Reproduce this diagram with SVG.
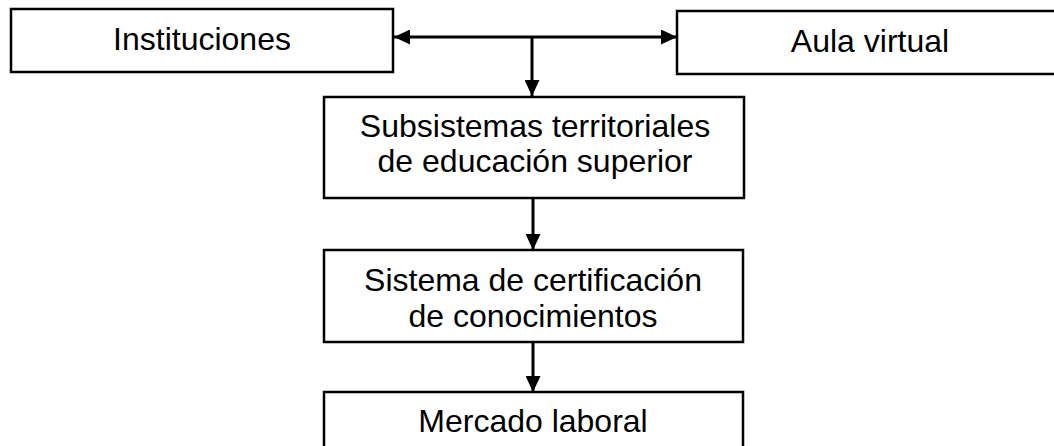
<svg xmlns="http://www.w3.org/2000/svg" width="1054" height="446" viewBox="0 0 1054 446">
<style>
.box{fill:#fff;stroke:#000;stroke-width:2.5}
.t{font-family:"Liberation Sans",Arial,sans-serif;font-size:32px;fill:#000;text-anchor:middle}
.c{stroke:#000;stroke-width:3;fill:none}
</style>
<defs>
<marker id="ah" viewBox="0 0 16 15" refX="16" refY="7.5" markerWidth="16" markerHeight="15" markerUnits="userSpaceOnUse" orient="auto-start-reverse">
<path d="M0,0 L16,7.5 L0,15 Z" fill="#000"/>
</marker>
</defs>
<rect width="1054" height="446" fill="#fff"/>
<g id="instituciones"><rect class="box" x="11" y="9" width="382" height="63"/><text class="t" x="202" y="50">Instituciones</text></g>
<g id="aula"><rect class="box" x="677" y="11" width="390" height="63"/><text class="t" x="870" y="52">Aula virtual</text></g>
<g id="subsistemas"><rect class="box" x="324" y="97" width="420" height="101"/><text class="t" x="535" y="137">Subsistemas territoriales</text><text class="t" x="535" y="172">de educación superior</text></g>
<g id="certificacion"><rect class="box" x="324" y="250" width="419" height="92"/><text class="t" x="533" y="291">Sistema de certificación</text><text class="t" x="533" y="327">de conocimientos</text></g>
<g id="mercado"><rect class="box" x="324" y="392" width="419" height="70"/><text class="t" x="533" y="432">Mercado laboral</text></g>
<g id="connectors">
<line class="c" x1="394" y1="37" x2="677" y2="37" marker-start="url(#ah)" marker-end="url(#ah)"/>
<line class="c" x1="532" y1="37" x2="532" y2="96" marker-end="url(#ah)"/>
<line class="c" x1="533" y1="198" x2="533" y2="250" marker-end="url(#ah)"/>
<line class="c" x1="533" y1="342" x2="533" y2="392" marker-end="url(#ah)"/>
</g>
</svg>
